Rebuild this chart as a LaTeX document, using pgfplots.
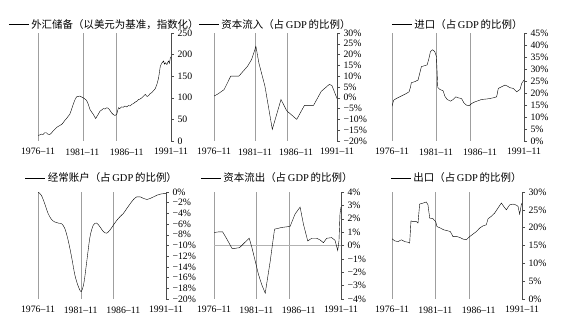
\documentclass[border=0pt]{standalone}
\usepackage{pgfplots}
\pgfplotsset{compat=1.18}
\usepackage{fontspec}
\setmainfont{Liberation Serif}
\newfontfamily\cjk{Noto Sans CJK SC}

\newcommand{\vlines}{%
  \draw[gray!75, line width=0.9bp] (rel axis cs:0,0) -- (rel axis cs:0,1);%
  \draw[gray!75, line width=0.9bp] (rel axis cs:0.338,0) -- (rel axis cs:0.338,1);%
  \draw[gray!75, line width=0.9bp] (rel axis cs:0.5933,0) -- (rel axis cs:0.5933,1);%
}

\pgfplotsset{
 panel/.style={
  scale only axis, height=108bp, xmin=0, xmax=15,
  axis x line*=bottom, axis y line*=right,
  x axis line style={draw=none},
  xtick={0,5,10,15}, xticklabels={1976–11,1981–11,1986–11,1991–11},
  xtick style={draw=none},
  ytick style={draw=gray!60!black, line width=0.5bp}, tick align=outside, major tick length=3bp,
  y axis line style={draw=gray!60!black, line width=0.6bp},
  tick label style={font=\fontsize{9.8}{11}\selectfont},
  xticklabel style={yshift=-1bp},
  /pgf/number format/assume math mode=true,
  legend style={draw=none, fill=none, anchor=south, font=\fontsize{10.5}{12}\selectfont, inner sep=0pt},
  legend image code/.code={\draw[black, line width=0.9bp] (0bp,0bp) -- (20bp,0bp);},
  cycle list={{black, line width=0.75bp, mark=none}},
 },
 row1/.style={legend style={at={(0.5,1.01)}}},
 row2/.style={legend style={at={(0.5,1.06)}}},
}

\begin{document}
\begin{tikzpicture}
\useasboundingbox (0,0) rectangle (566bp,-322bp);

% Panel 1
\begin{axis}[panel,row1,at={(38bp,-33bp)},anchor=north west,width=133bp,
  ymin=0,ymax=250,ytick={0,50,100,150,200,250}]
\vlines
\addplot coordinates {(0,13)(0.2,14)(0.4,16)(0.57,15)(0.75,19)(0.94,19)(1.1,16)(1.32,15)(1.5,18)(1.70,23)(1.9,27)(2.08,31)(2.3,34)(2.46,36)(2.65,38)(2.83,42)(3.0,47)(3.21,52)(3.4,57)(3.59,62)(3.78,73)(3.97,85)(4.16,95)(4.34,102)(4.5,103)(4.72,104)(4.9,102)(5.10,100)(5.3,97)(5.48,94)(5.67,85)(5.86,73)(6.05,67)(6.23,62)(6.50,52)(6.65,57)(6.80,62)(6.99,69)(7.2,72)(7.37,75)(7.55,74)(7.74,77)(7.9,76)(8.05,73)(8.31,65)(8.5,61)(8.69,59)(8.88,62)(9.07,77)(9.2,75)(9.44,79)(9.6,78)(9.82,81)(10.0,79)(10.20,82)(10.4,81)(10.58,85)(10.8,87)(10.96,90)(11.15,92)(11.33,96)(11.5,97)(11.71,100)(11.9,104)(12.09,108)(12.3,103)(12.47,105)(12.65,110)(12.84,112)(13.0,116)(13.22,121)(13.41,131)(13.5,138)(13.60,146)(13.7,160)(13.79,173)(13.98,181)(14.17,185)(14.25,178)(14.36,181)(14.54,177)(14.63,182)(14.73,185)(14.82,180)(14.92,192)(15,195)};
\addlegendentry{{\cjk 外汇储备（以美元为基准，指数化）}}
\end{axis}

% Panel 2
\begin{axis}[panel,row1,at={(214bp,-33bp)},anchor=north west,width=123bp,
  ymin=-20,ymax=30,ytick={-20,-15,...,30},
  yticklabels={−20\%,−15\%,−10\%,−5\%,0\%,5\%,10\%,15\%,20\%,25\%,30\%}]
\vlines
\addplot coordinates {(0,0.8)(0.49,1.8)(1.23,3.8)(2.04,10)(3.02,10)(4.09,14.6)(4.58,17.7)(5.11,23.8)(5.48,16)(6.21,5.4)(7.11,-14.6)(8.17,-0.8)(8.87,-6)(10.09,-10)(11.03,-3.5)(12.14,-3.5)(13.08,3)(14.06,6.2)(14.38,5.7)(15,-0.3)};
\addlegendentry{{\cjk 资本流入（占}\,GDP\,{\cjk 的比例）}}
\end{axis}

% Panel 3
\begin{axis}[panel,row1,at={(392bp,-33bp)},anchor=north west,width=132bp,
  ymin=0,ymax=45,ytick={0,5,...,45},
  yticklabels={0\%,5\%,10\%,15\%,20\%,25\%,30\%,35\%,40\%,45\%}]
\vlines
\addplot coordinates {(0,14.5)(0.19,17)(0.49,17.7)(0.87,18.4)(1.25,19.1)(1.63,19.8)(1.94,20.5)(2.09,22.3)(2.20,24.3)(2.58,24.7)(2.96,25.4)(3.15,28.2)(3.34,31)(3.72,31.4)(3.99,31.7)(4.18,34.1)(4.37,37.3)(4.60,38)(4.86,37.3)(5.05,35.2)(5.20,22.3)(5.43,21.5)(5.81,20.9)(6.00,18.7)(6.27,17.3)(6.65,16.6)(6.95,17.3)(7.25,18.4)(7.52,18)(7.90,17.7)(8.17,15.9)(8.47,14.9)(8.77,14.7)(9.04,15.6)(9.42,16.3)(9.80,16.8)(10.18,17.3)(10.75,17.5)(11.13,17.7)(11.51,18)(11.89,18.4)(12.08,21.9)(12.46,22.6)(12.84,23.3)(13.10,22.9)(13.41,22.2)(13.79,21.9)(14.17,20.5)(14.55,21.5)(14.74,24)(15,25.4)};
\addlegendentry{{\cjk 进口（占}\,GDP\,{\cjk 的比例）}}
\end{axis}

% Panel 4
\begin{axis}[panel,row2,at={(38bp,-192bp)},anchor=north west,width=128bp,height=107bp,
  ymin=-20,ymax=0,ytick={-20,-18,...,0},
  yticklabels={−20\%,−18\%,−16\%,−14\%,−12\%,−10\%,−8\%,−6\%,−4\%,−2\%,0\%}]
\vlines
\addplot+[smooth] coordinates {(0,0)(0.39,-0.6)(0.79,-2.2)(1.18,-4)(1.57,-5.1)(1.96,-5.6)(2.36,-5.8)(2.75,-5.9)(3.14,-6.8)(3.53,-9)(3.93,-12.1)(4.32,-15.5)(4.71,-17.6)(5.06,-18.6)(5.38,-17)(5.69,-13.3)(6.09,-8.4)(6.48,-6.2)(6.87,-5.8)(7.26,-6.5)(7.66,-7.4)(8.05,-7.7)(8.44,-7.1)(8.83,-6.2)(9.23,-5.3)(9.62,-4.6)(10.01,-4)(10.40,-3.1)(10.80,-2.2)(11.19,-1.4)(11.58,-0.9)(11.97,-0.9)(12.37,-1.2)(12.76,-1.4)(13.15,-1.2)(13.55,-0.9)(13.94,-0.6)(14.33,-0.4)(14.72,-0.3)(15,-0.3)};
\addlegendentry{{\cjk 经常账户（占}\,GDP\,{\cjk 的比例）}}
\end{axis}

% Panel 5
\begin{axis}[panel,row2,at={(214bp,-192bp)},anchor=north west,width=127bp,height=107bp,
  ymin=-4,ymax=4,ytick={-4,-3,...,4},
  yticklabels={−4\%,−3\%,−2\%,−1\%,0\%,1\%,2\%,3\%,4\%}]
\vlines
\draw[gray!60, line width=0.6bp] (rel axis cs:0,0.5) -- (rel axis cs:1,0.5);
\addplot coordinates {(0,0.97)(0.55,1.02)(1.02,1.02)(1.53,0.47)(2.12,-0.21)(2.51,-0.21)(3.02,-0.16)(3.61,0.21)(4.16,0.54)(4.48,-0.16)(4.87,-1.17)(5.26,-2.18)(5.65,-2.94)(6.05,-3.57)(6.64,-1.17)(7.15,1.22)(8.01,1.35)(8.99,1.43)(9.58,2.36)(10.17,2.87)(10.56,1.6)(11.07,0.34)(11.54,0.54)(12.13,0.54)(12.52,0.42)(12.92,0.21)(13.31,0.54)(13.90,0.59)(14.29,0.39)(14.61,-0.37)(14.76,0.34)(14.88,2.36)(15,2.87)};
\addlegendentry{{\cjk 资本流出（占}\,GDP\,{\cjk 的比例）}}
\end{axis}

% Panel 6
\begin{axis}[panel,row2,at={(392bp,-192bp)},anchor=north west,width=130bp,height=107bp,
  ymin=0,ymax=30,ytick={0,5,...,30},
  yticklabels={0\%,5\%,10\%,15\%,20\%,25\%,30\%}]
\vlines
\addplot coordinates {(0,16.9)(0.31,16.3)(0.69,16.1)(1.08,16.6)(1.46,16.1)(1.85,15.9)(2.04,15.7)(2.19,21.9)(2.42,21.7)(2.81,21.7)(3.0,21.3)(3.19,26.6)(3.58,26.9)(3.96,27.2)(4.15,26.4)(4.35,22.7)(4.73,22.5)(5.04,21.7)(5.19,20.3)(5.58,19.9)(5.96,19.4)(6.46,19.1)(6.73,18.9)(7.04,17.5)(7.5,17.5)(7.88,17.2)(8.19,16.8)(8.58,16.6)(8.96,17.5)(9.35,18.2)(9.73,18.9)(10.12,19.9)(10.5,20.5)(10.88,20.8)(11.08,22.5)(11.46,23.2)(11.85,24.1)(12.23,25.5)(12.62,26.9)(12.88,26)(13.19,25)(13.58,26.4)(13.96,26.6)(14.27,26.4)(14.54,26)(14.73,23.8)(14.92,26.4)(15,26.9)};
\addlegendentry{{\cjk 出口（占}\,GDP\,{\cjk 的比例）}}
\end{axis}
\end{tikzpicture}
\end{document}
